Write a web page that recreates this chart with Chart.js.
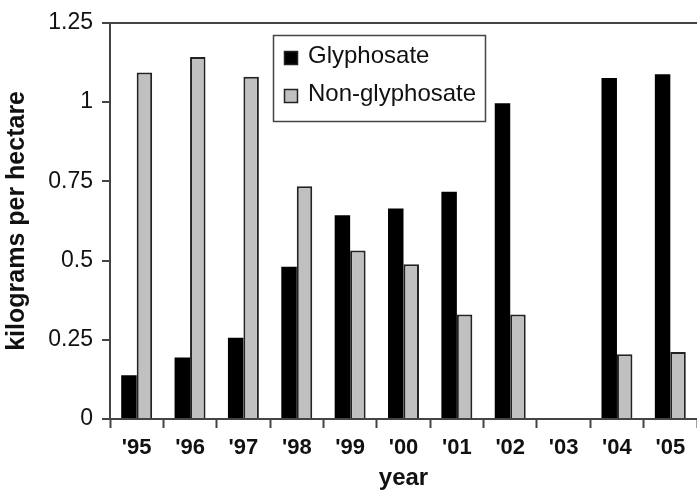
<!DOCTYPE html>
<html>
<head>
<meta charset="utf-8">
<script src="https://cdn.jsdelivr.net/npm/chart.js@4/dist/chart.umd.min.js"></script>
<style>
  html, body { margin: 0; padding: 0; background: #fff; }
  #wrap { width: 697px; height: 493px; }
</style>
</head>
<body>
<div id="wrap"><canvas id="chart" width="697" height="493"></canvas></div>
<script>
const years = ["'95", "'96", "'97", "'98", "'99", "'00", "'01", "'02", "'03", "'04", "'05"];
const glyphosate = [0.138, 0.194, 0.256, 0.48, 0.643, 0.664, 0.717, 0.996, null, 1.076, 1.088];
const nonGlyphosate = [1.093, 1.142, 1.08, 0.734, 0.532, 0.488, 0.33, 0.33, null, 0.204, 0.211];
const yTicks = [0, 0.25, 0.5, 0.75, 1, 1.25];

const FONT = '"Liberation Sans", Arial, Helvetica, sans-serif';
const AXIS = "#444";

/* legend drawn as a framed box inside the plot */
const boxLegend = {
  id: "boxLegend",
  afterDraw(chart) {
    const ctx = chart.ctx;
    ctx.save();
    ctx.lineWidth = 1.5;
    ctx.strokeStyle = AXIS;
    ctx.strokeRect(273.5, 35.5, 212, 86);
    ctx.font = "24px " + FONT;
    ctx.textBaseline = "middle";
    chart.data.datasets.forEach((ds, i) => {
      const y = 56 + i * 38;
      ctx.fillStyle = ds.backgroundColor;
      ctx.fillRect(284, y - 5, 14, 14);
      ctx.lineWidth = 1.5;
      ctx.strokeStyle = "#222";
      ctx.strokeRect(284.5, y - 4.5, 13, 13);
      ctx.fillStyle = "#111";
      ctx.fillText(ds.label, 308, y);
    });
    ctx.restore();
  },
};

new Chart(document.getElementById("chart"), {
  type: "bar",
  data: {
    labels: years,
    datasets: [
      {
        label: "Glyphosate",
        data: glyphosate,
        backgroundColor: "#000000",
        borderWidth: 0,
      },
      {
        label: "Non-glyphosate",
        data: nonGlyphosate,
        backgroundColor: "#c0c0c0",
        borderColor: "#222222",
        borderWidth: 2,
      },
    ],
  },
  options: {
    responsive: false,
    animation: false,
    devicePixelRatio: 1,
    layout: { padding: { top: 14, right: -8, left: 0, bottom: 0 } },
    datasets: {
      bar: { categoryPercentage: 0.58, barPercentage: 1.0 },
    },
    plugins: {
      legend: { display: false },
      tooltip: { enabled: false },
    },
    scales: {
      x: {
        offset: true,
        afterFit: (s) => { s.height = 74; },
        border: { display: true, color: AXIS, width: 2 },
        grid: {
          offset: true,
          color: "transparent",
          drawOnChartArea: false,
          tickColor: AXIS,
          tickLength: 9,
          tickWidth: 2,
        },
        ticks: {
          color: "#111",
          padding: 7,
          font: { family: FONT, size: 22, weight: "bold" },
        },
        title: {
          display: true,
          text: "year",
          color: "#111",
          padding: { top: 0, bottom: 0 },
          font: { family: FONT, size: 24, weight: "bold" },
        },
      },
      y: {
        min: 0,
        max: 1.25,
        afterFit: (s) => { s.width = 110; },
        afterBuildTicks: (s) => { s.ticks = yTicks.map((v) => ({ value: v })); },
        border: { display: true, color: AXIS, width: 2 },
        grid: {
          color: (c) => (c.tick && c.tick.value === 1.25 ? AXIS : "transparent"),
          lineWidth: 2,
          tickColor: AXIS,
          tickLength: 8,
          tickWidth: 2,
        },
        ticks: {
          color: "#111",
          padding: 9,
          font: { family: FONT, size: 23 },
          callback: (v) => String(+Number(v).toFixed(2)),
        },
        title: {
          display: true,
          text: "kilograms per hectare",
          color: "#111",
          padding: { top: 2, bottom: 0 },
          font: { family: FONT, size: 25, weight: "bold" },
        },
      },
    },
  },
  plugins: [boxLegend],
});
</script>
</body>
</html>
